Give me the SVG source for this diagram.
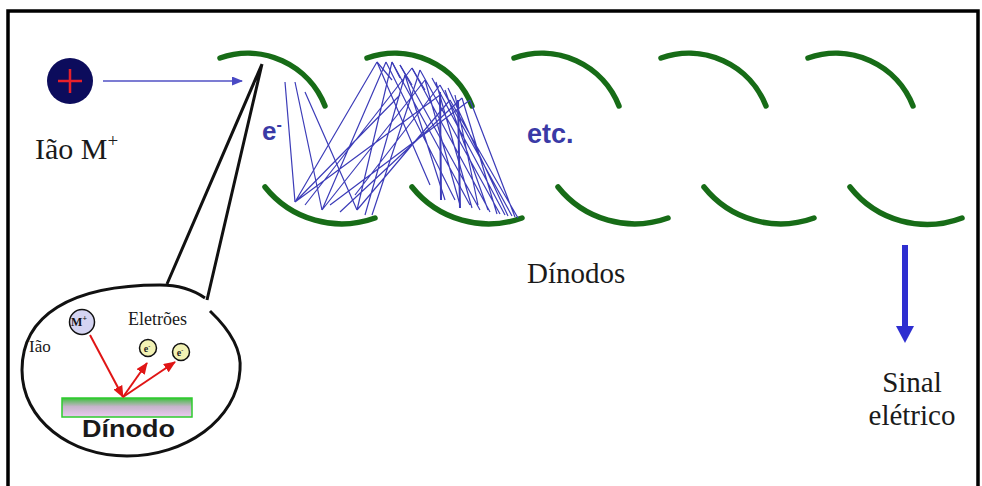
<svg xmlns="http://www.w3.org/2000/svg" width="982" height="486" viewBox="0 0 982 486">
  <style>
    .serif { font-family: "Liberation Serif", "Times New Roman", serif; fill: #1a1a1a; }
    .sans-b { font-family: "Liberation Sans", Arial, sans-serif; font-weight: bold; }
    .dyn { fill: none; stroke: #176c17; stroke-width: 5.5; stroke-linecap: round; }
    .traj { fill: none; stroke: #3c3cb8; stroke-width: 1.2; }
    .red { fill: none; stroke: #e01515; stroke-width: 2; marker-end: url(#redHead); }
    .blk { fill: none; stroke: #111; stroke-width: 3; }
  </style>
  <defs>
    <marker id="redHead" markerUnits="userSpaceOnUse" markerWidth="12" markerHeight="10" refX="11" refY="5" orient="auto">
      <path d="M0,0 L12,5 L0,10 Z" fill="#e01515"/>
    </marker>
    <marker id="blueHead" markerUnits="userSpaceOnUse" markerWidth="11" markerHeight="9" refX="10" refY="4.5" orient="auto">
      <path d="M0,0 L11,4.5 L0,9 Z" fill="#4a4ac4"/>
    </marker>
    <linearGradient id="plate" x1="0" y1="0" x2="0" y2="1">
      <stop offset="0" stop-color="#2fc42f"/>
      <stop offset="0.15" stop-color="#6cbb6c"/>
      <stop offset="0.45" stop-color="#c6b4ca"/>
      <stop offset="1" stop-color="#eacbf0"/>
    </linearGradient>
  </defs>

  <rect width="982" height="486" fill="#ffffff"/>

  <!-- outer frame, open at the bottom -->
  <path id="frame" d="M8,490 V11 H978 V490" fill="none" stroke="#000" stroke-width="3.5"/>

  <!-- incoming ion -->
  <g id="ion">
    <circle cx="70" cy="81" r="23" fill="#0c0c5c"/>
    <path d="M58,81 H82 M70,69 V93" stroke="#e8202a" stroke-width="2.5"/>
    <text class="serif" x="35" y="159" font-size="30">Ião M<tspan font-size="19" dy="-12">+</tspan></text>
  </g>

  <!-- dynode chain: upper row and lower row -->
  <g id="dynodes">
    <g id="dynode-top-1"><path class="dyn" d="M220,58 A83,83 0 0 1 325,106"/></g>
    <g id="dynode-top-2"><path class="dyn" d="M367,58 A83,83 0 0 1 472,106"/></g>
    <g id="dynode-top-3"><path class="dyn" d="M514,58 A83,83 0 0 1 619,106"/></g>
    <g id="dynode-top-4"><path class="dyn" d="M661,58 A83,83 0 0 1 766,106"/></g>
    <g id="dynode-top-5"><path class="dyn" d="M808,58 A83,83 0 0 1 913,106"/></g>
    <g id="dynode-bot-1"><path class="dyn" d="M265,187 A98,98 0 0 0 375,218"/></g>
    <g id="dynode-bot-2"><path class="dyn" d="M412,187 A98,98 0 0 0 522,218"/></g>
    <g id="dynode-bot-3"><path class="dyn" d="M558,187 A98,98 0 0 0 668,218"/></g>
    <g id="dynode-bot-4"><path class="dyn" d="M704,187 A98,98 0 0 0 814,218"/></g>
    <g id="dynode-bot-5"><path class="dyn" d="M850,187 A98,98 0 0 0 962,218"/></g>
  </g>

  <!-- electron cascade paths -->
  <g id="trajectories" class="traj">
    <path d="M285,82 L295,202 M295,82 L322,210 M305,92 L357,210"/>
    <path d="M295,202 L377,62 M295,202 L400,95 M295,202 L440,95 M322,210 L386,62 M322,210 L425,80
             M357,210 L392,62 M357,210 L450,100 M330,205 L470,100 M340,212 L462,98 M365,215 L405,75
             M372,215 L420,70 M355,195 L440,85 M305,205 L412,68"/>
    <path d="M377,62 L430,185 M386,62 L455,200 M392,62 L470,205 M400,65 L480,210 M405,75 L445,200
             M412,68 L490,212 M420,70 L500,214 M425,80 L460,205 M432,78 L505,215 M440,85 L512,216
             M445,90 L488,210 M450,100 L518,218 M455,95 L478,205 M462,98 L497,214 M470,100 L515,217
             M436,82 L472,208 M448,88 L508,216"/>
    <path d="M377,62 L392,80 M392,62 L400,78 M400,65 L412,85 M412,68 L425,90"/>
    <path d="M440,92 L441,200 M458,100 L460,208" stroke-width="2"/>
  </g>

  <g id="labels">
    <text class="sans-b" x="262" y="140" font-size="26" fill="#3a3aa6">e<tspan font-size="16" dy="-10">-</tspan></text>
    <text class="sans-b" x="527" y="143" font-size="27" fill="#3a3aa6">etc.</text>
    <text class="serif" x="527" y="283" font-size="29">Dínodos</text>
    <text class="serif" x="912" y="392" font-size="29" text-anchor="middle">Sinal</text>
    <text class="serif" x="912" y="425" font-size="29" text-anchor="middle">elétrico</text>
  </g>

  <g id="connectors">
    <!-- ion path into the first dynode -->
    <path d="M103,81 H242" fill="none" stroke="#5050c4" stroke-width="1.5" marker-end="url(#blueHead)"/>
    <!-- magnifier lines to the inset -->
    <path class="blk" d="M262,64 L167,284 M262,64 L207,300"/>
    <!-- output signal -->
    <path d="M905,245 V328" stroke="#2e2ed0" stroke-width="6"/>
    <path d="M896,326 L914,326 L905,343 Z" fill="#2e2ed0"/>
  </g>

  <!-- magnified view of a single dynode -->
  <g id="inset">
    <path class="blk" stroke-width="2.5" d="M210,311 C230,330 242,350 240,370 C237,420 185,456 127,456 C70,456 22,420 22,370 C22,316 70,285 160,285 C180,285 195,291 205,298"/>
    <rect x="62" y="398" width="130" height="19" fill="url(#plate)" stroke="#2ecc2e" stroke-width="1.5"/>
    <text class="sans-b" x="82" y="437" font-size="23" fill="#1a1a1a" textLength="93" lengthAdjust="spacingAndGlyphs">Dínodo</text>
    <text class="serif" x="29" y="352" font-size="17">Ião</text>
    <text class="serif" x="128" y="325" font-size="18">Eletrões</text>
    <path class="red" d="M90,335 L123,397"/>
    <path class="red" d="M123,397 L147,363"/>
    <path class="red" d="M123,397 L175,362"/>
    <g id="inset-ion">
      <circle cx="82" cy="322" r="12.5" fill="#d4d4f2" stroke="#111" stroke-width="1.5"/>
      <text x="79" y="326" font-size="12" font-weight="bold" font-family="Liberation Serif, serif" text-anchor="middle" fill="#111">M<tspan font-size="8" dy="-5">+</tspan></text>
    </g>
    <g id="inset-e1">
      <circle cx="148" cy="348" r="8.5" fill="#f2f2b4" stroke="#111" stroke-width="1.5"/>
      <text x="147" y="352" font-size="10" font-weight="bold" font-family="Liberation Serif, serif" text-anchor="middle" fill="#222">e<tspan font-size="6" dy="-4">-</tspan></text>
    </g>
    <g id="inset-e2">
      <circle cx="181" cy="352" r="8.5" fill="#f2f2b4" stroke="#111" stroke-width="1.5"/>
      <text x="180" y="356" font-size="10" font-weight="bold" font-family="Liberation Serif, serif" text-anchor="middle" fill="#222">e<tspan font-size="6" dy="-4">-</tspan></text>
    </g>
  </g>
</svg>
